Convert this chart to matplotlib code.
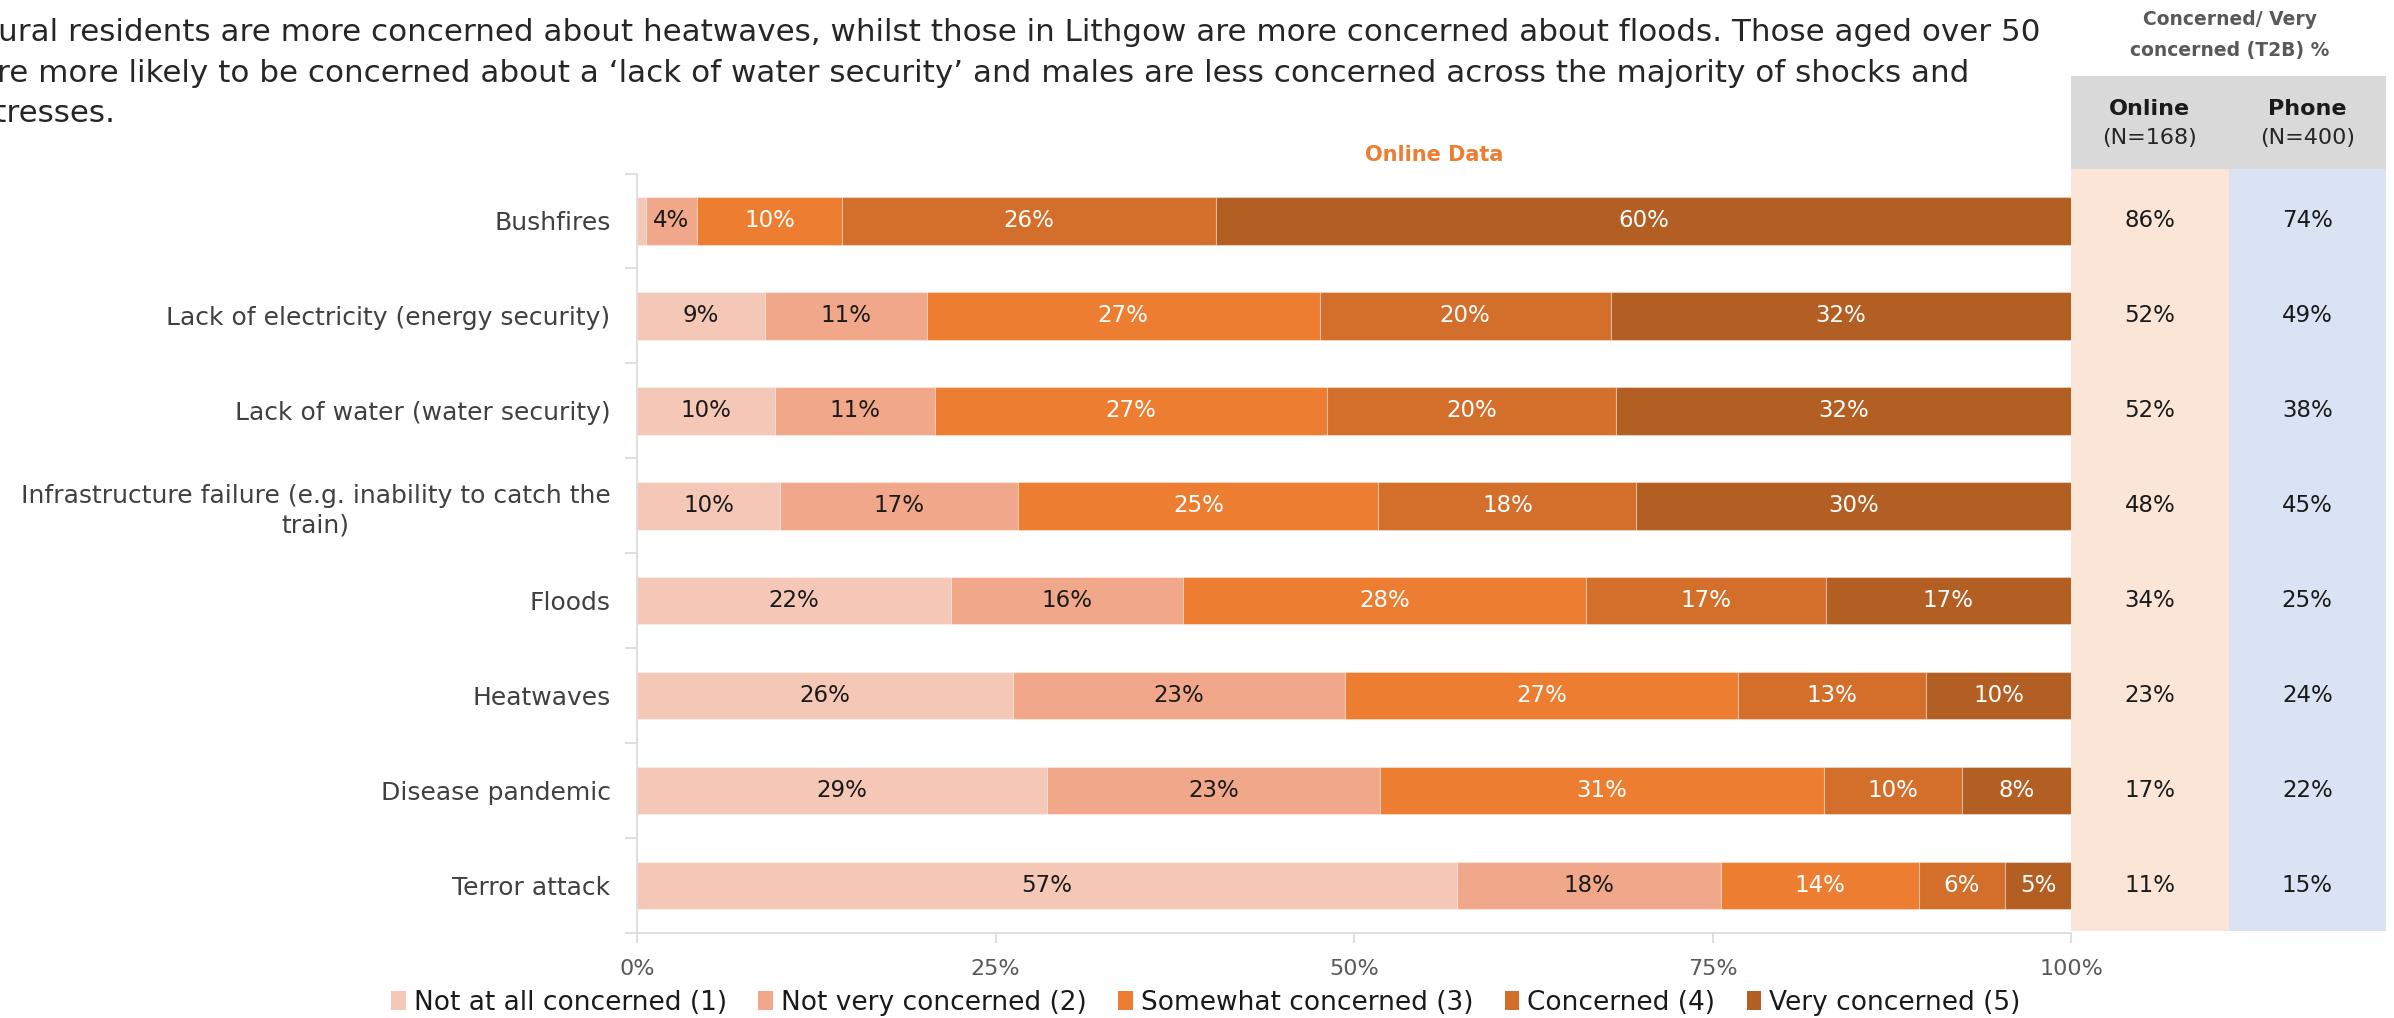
import matplotlib.pyplot as plt
from matplotlib.patches import Rectangle, Patch
import numpy as np

plt.rcParams['font.family'] = ['DejaVu Sans']

# Data (Online data, % of respondents)
categories = ['Bushfires', 'Lack of electricity (energy security)',
              'Lack of water (water security)',
              'Infrastructure failure (e.g. inability to catch the\ntrain)',
              'Floods', 'Heatwaves', 'Disease pandemic', 'Terror attack']
levels = ['Not at all concerned (1)', 'Not very concerned (2)',
          'Somewhat concerned (3)', 'Concerned (4)', 'Very concerned (5)']
not_at_all = [0.6, 8.9, 9.6, 10.0, 21.9, 26.2, 28.6, 57.2]
not_very = [3.6, 11.3, 11.2, 16.6, 16.2, 23.2, 23.2, 18.4]
somewhat = [10.1, 27.4, 27.3, 25.1, 28.1, 27.4, 31.0, 13.8]
concerned = [26.1, 20.3, 20.2, 18.0, 16.7, 13.1, 9.6, 6.0]
very = [59.6, 32.1, 31.7, 30.3, 17.1, 10.1, 7.6, 4.6]

t2b_online = [86, 52, 52, 48, 34, 23, 17, 11]
t2b_phone = [74, 49, 38, 45, 25, 24, 22, 15]

colors = ['#F4C7B7', '#F1A88A', '#ED7D31', '#D46F2B', '#B35E23']
label_colors = ['#1a1a1a', '#1a1a1a', 'white', 'white', 'white']

W, H = 2394, 1018
fig = plt.figure(figsize=(W / 100, H / 100), dpi=100)

# main bar axes (pixel layout from the reference)
x0, x1, ytop, ybot = 637, 2071, 173.5, 933
ax = fig.add_axes([x0 / W, 1 - ybot / H, (x1 - x0) / W, (ybot - ytop) / H])

y = np.arange(len(categories))
left = np.zeros(len(categories))
series = [not_at_all, not_very, somewhat, concerned, very]
for vals, c, lc in zip(series, colors, label_colors):
    vals = np.array(vals)
    ax.barh(y, vals, left=left, height=0.5, color=c,
            edgecolor=(1, 1, 1, 0.35), linewidth=0.8)
    for yi, (l, v) in enumerate(zip(left, vals)):
        if v >= 2:
            ax.text(l + v / 2, yi, f'{v:.0f}%', ha='center', va='center',
                    fontsize=16.5, color=lc)
    left += vals

ax.set_xlim(0, 100)
ax.set_ylim(len(categories) - 0.5, -0.5)
ax.set_xticks([0, 25, 50, 75, 100])
ax.set_xticklabels(['0%', '25%', '50%', '75%', '100%'])
ax.set_yticks(y)
ax.set_yticklabels(categories, fontsize=18, color='#404040', ha='right',
                   linespacing=1.25)
ax.set_yticks(np.arange(-0.5, len(categories)), minor=True)
ax.tick_params(axis='y', which='major', length=0, pad=19)
ax.tick_params(axis='y', which='minor', length=9, color='#D9D9D9', width=1.2)
ax.tick_params(axis='x', length=7, color='#D9D9D9', width=1.2,
               labelsize=16, labelcolor='#595959', pad=12)
for lbl in ax.get_yticklabels():
    lbl.set_multialignment('center')
for s in ['top', 'right']:
    ax.spines[s].set_visible(False)
for s in ['left', 'bottom']:
    ax.spines[s].set_color('#D9D9D9')
    ax.spines[s].set_linewidth(1.2)

ax.text(55.6, -0.7, 'Online Data', ha='center', va='center', fontsize=15,
        fontweight='bold', color='#ED7D31')

# T2B table on the right
tx0, tx1 = 2071, 2386
axt = fig.add_axes([tx0 / W, 1 - ybot / H, (tx1 - tx0) / W, (ybot - ytop) / H])
axt.set_xlim(0, 2)
axt.set_ylim(len(categories) - 0.5, -0.5)
axt.axis('off')
head_top, head_bot, col_bot = -1.53, -0.55, 7.48
axt.add_patch(Rectangle((0, head_bot), 2, head_top - head_bot,
                        color='#D9D9D9', clip_on=False, lw=0))
axt.add_patch(Rectangle((0, head_bot), 1, col_bot - head_bot,
                        color='#FBE5D6', clip_on=False, lw=0))
axt.add_patch(Rectangle((1, head_bot), 1, col_bot - head_bot,
                        color='#DAE3F3', clip_on=False, lw=0))
for yi, (o, p) in enumerate(zip(t2b_online, t2b_phone)):
    axt.text(0.5, yi, f'{o}%', ha='center', va='center', fontsize=16.5, color='#1a1a1a')
    axt.text(1.5, yi, f'{p}%', ha='center', va='center', fontsize=16.5, color='#1a1a1a')
for xc, name, n in [(0.5, 'Online', '(N=168)'), (1.5, 'Phone', '(N=400)')]:
    axt.text(xc, -1.18, name, ha='center', va='center', fontsize=16,
             fontweight='bold', color='#1a1a1a', clip_on=False)
    axt.text(xc, -0.87, n, ha='center', va='center', fontsize=16,
             color='#262626', clip_on=False)

fig.text(2230 / W, 1 - 35 / H, 'Concerned/ Very\nconcerned (T2B) %',
         ha='center', va='center', fontsize=13.5, fontweight='bold',
         color='#595959', linespacing=1.75)

# headline text (cut off at the left edge as in the original slide)
headline = ('Rural residents are more concerned about heatwaves, whilst those in Lithgow '
            'are more concerned about floods. Those aged over 50\n'
            'are more likely to be concerned about a \u2018lack of water security\u2019 '
            'and males are less concerned across the majority of shocks and\n'
            'stresses.')
fig.text(-22 / W, 1 - 18 / H, headline, ha='left', va='top', fontsize=22.3,
         color='#262626', linespacing=1.5)

# legend
handles = [Patch(facecolor=c, edgecolor='none') for c in colors]
fig.legend(handles, levels, loc='center', bbox_to_anchor=(1206 / W, 1 - 1003 / H),
           ncol=5, frameon=False, fontsize=19, handlelength=0.55, handleheight=0.75,
           handletextpad=0.3, columnspacing=1.2, labelcolor='#1a1a1a')

fig.savefig('out.png', dpi=100)
